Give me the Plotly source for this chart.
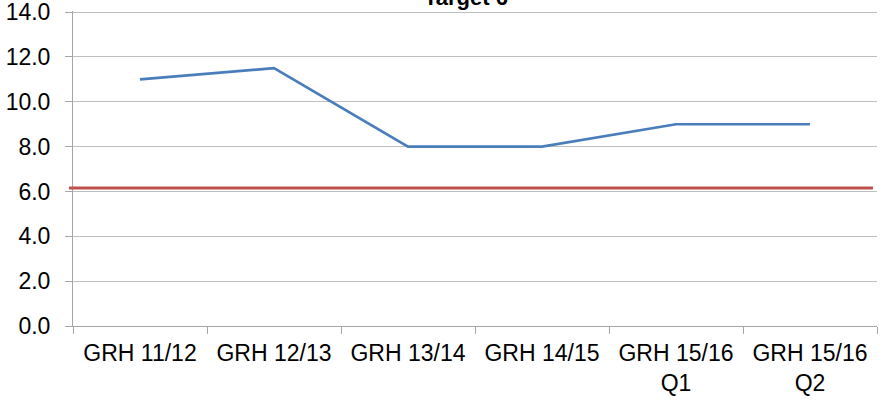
import plotly.graph_objects as go

categories = ["GRH 11/12", "GRH 12/13", "GRH 13/14", "GRH 14/15", "GRH 15/16<br>Q1", "GRH 15/16<br>Q2"]
values = [11.0, 11.5, 8.0, 8.0, 9.0, 9.0]
target = 6.15
title_text = "Target 6"
y_ticks = [0, 2, 4, 6, 8, 10, 12, 14]
y_ticklabels = ["0.0", "2.0", "4.0", "6.0", "8.0", "10.0", "12.0", "14.0"]

FONT = "Liberation Sans, Arial, sans-serif"

fig = go.Figure()
fig.add_trace(go.Scatter(
    x=categories, y=values, mode="lines",
    line=dict(color="#4A7EBB", width=2.6),
    showlegend=False, hoverinfo="skip",
))

fig.add_shape(type="line", xref="paper", yref="y",
              x0=-0.005, x1=0.995, y0=target, y1=target,
              line=dict(color="#C0504D", width=3), layer="above")

fig.add_annotation(text="<b>" + title_text + "</b>", xref="paper", yref="paper",
                   x=0.489, y=1, xanchor="center", yanchor="bottom", yshift=-1,
                   showarrow=False, font=dict(family=FONT, size=22, color="#000000"))

fig.update_layout(
    width=886, height=400,
    margin=dict(l=73, r=9, t=11, b=74, autoexpand=False),
    paper_bgcolor="white", plot_bgcolor="white",
    font=dict(family=FONT, size=23, color="#000000"),
)
fig.update_xaxes(
    type="category", range=[-0.5, len(categories) - 0.5],
    tickson="boundaries", ticks="outside", ticklen=7,
    tickcolor="#A6A6A6", showline=True, linecolor="#A6A6A6", linewidth=1,
    showgrid=False, tickangle=0, ticklabelstandoff=6, automargin=False,
    ticklabeloverflow="allow",
    tickfont=dict(family=FONT, size=23, color="#000000"),
)
fig.update_yaxes(
    range=[0, 14.05], tickmode="array", tickvals=y_ticks, ticktext=y_ticklabels,
    ticks="outside", ticklen=7,
    tickcolor="#A6A6A6", showline=True, linecolor="#A6A6A6", linewidth=1,
    showgrid=True, gridcolor="#BFBFBF", gridwidth=1, zeroline=False,
    ticklabelstandoff=10, automargin=False, ticklabeloverflow="allow",
    tickfont=dict(family=FONT, size=23, color="#000000"),
)

fig.write_html("out.html", config={"displayModeBar": False},
               post_script="document.body.style.margin='0px';")
